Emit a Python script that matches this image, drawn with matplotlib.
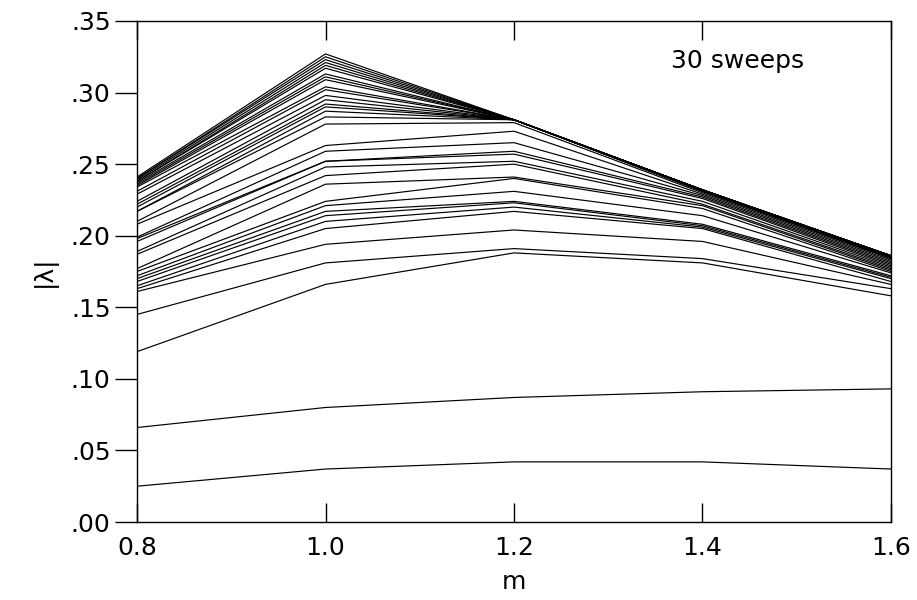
import matplotlib
matplotlib.use("Agg")
import matplotlib.pyplot as plt
from matplotlib.ticker import FuncFormatter

m_values = [0.8, 1.0, 1.2, 1.4, 1.6]

# |lambda| per sweep at each m (bottom to top)
lam_08 = [0.025, 0.066, 0.119, 0.145, 0.161, 0.163, 0.165, 0.168, 0.170, 0.172,
          0.175, 0.177, 0.187, 0.189, 0.196, 0.198, 0.199, 0.208, 0.210, 0.217,
          0.217, 0.220, 0.222, 0.224, 0.229, 0.231, 0.234, 0.235, 0.236, 0.237,
          0.238, 0.238, 0.239, 0.240, 0.240, 0.241]
lam_10 = [0.037, 0.080, 0.166, 0.181, 0.194, 0.205, 0.210, 0.214, 0.217, 0.221,
          0.224, 0.236, 0.242, 0.248, 0.252, 0.252, 0.259, 0.263, 0.278, 0.283,
          0.287, 0.290, 0.292, 0.295, 0.298, 0.302, 0.304, 0.309, 0.311, 0.313,
          0.317, 0.319, 0.321, 0.323, 0.325, 0.327]
lam_12 = [0.042, 0.087, 0.188, 0.191, 0.204, 0.217, 0.220, 0.223, 0.224, 0.231,
          0.240, 0.241, 0.250, 0.252, 0.257, 0.259, 0.265, 0.273, 0.279, 0.281,
          0.281, 0.281, 0.281, 0.281, 0.281, 0.281, 0.281, 0.281, 0.281, 0.281,
          0.281, 0.281, 0.281, 0.281, 0.281, 0.281]
lam_14 = [0.042, 0.091, 0.181, 0.184, 0.196, 0.205, 0.206, 0.207, 0.208, 0.214,
          0.219, 0.221, 0.222, 0.224, 0.226, 0.227, 0.228, 0.229, 0.230, 0.231,
          0.231, 0.231, 0.232, 0.232, 0.232, 0.232, 0.232, 0.232, 0.232, 0.232,
          0.232, 0.232, 0.232, 0.232, 0.232, 0.232]
lam_16 = [0.037, 0.093, 0.158, 0.163, 0.166, 0.168, 0.170, 0.171, 0.172, 0.174,
          0.175, 0.176, 0.177, 0.178, 0.179, 0.180, 0.181, 0.182, 0.183, 0.184,
          0.184, 0.185, 0.185, 0.185, 0.185, 0.185, 0.186, 0.186, 0.186, 0.186,
          0.186, 0.186, 0.186, 0.186, 0.186, 0.186]

x_ticks = [0.8, 1.0, 1.2, 1.4, 1.6]
y_ticks = [0.00, 0.05, 0.10, 0.15, 0.20, 0.25, 0.30, 0.35]
annotation = "30 sweeps"

font = ["DejaVu Sans"]

fig = plt.figure(figsize=(9.17, 6.0), dpi=100)
ax = fig.add_axes([137/917, 1-522/600, (891-137)/917, (522-21)/600])

for i in range(len(lam_08)):
    ys = [lam_08[i], lam_10[i], lam_12[i], lam_14[i], lam_16[i]]
    ax.plot(m_values, ys, color="black", lw=0.85)

ax.set_xlim(0.8, 1.6)
ax.set_ylim(0.0, 0.35)
ax.set_xticks(x_ticks)
ax.set_yticks(y_ticks)
ax.xaxis.set_major_formatter(FuncFormatter(lambda v, p: f"{v:.1f}"))
ax.yaxis.set_major_formatter(FuncFormatter(lambda v, p: f"{v:.2f}".lstrip("0")))

ax.tick_params(axis="x", direction="in", length=14, width=1, top=True, bottom=True,
               labelsize=18, pad=10)
ax.tick_params(axis="y", direction="out", length=16, width=1, left=True, right=False,
               labelsize=18, pad=3)
for lab in ax.get_xticklabels() + ax.get_yticklabels():
    lab.set_family(font)

for s in ax.spines.values():
    s.set_linewidth(1.0)

ax.set_xlabel("m", fontsize=18, family=font, labelpad=7)
ax.set_ylabel("|λ|", fontsize=18, family=font, labelpad=10)

ax.text(0.885, 0.92, annotation, transform=ax.transAxes, ha="right", va="center",
        fontsize=18, family=font)

fig.savefig("out.png", dpi=100)
